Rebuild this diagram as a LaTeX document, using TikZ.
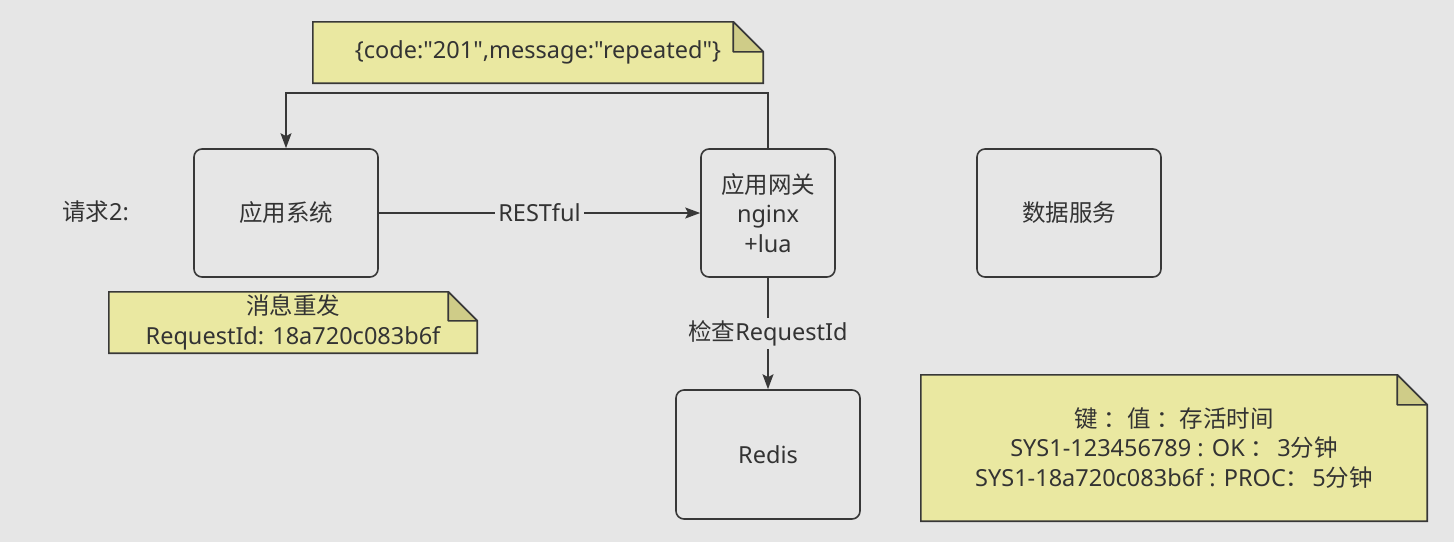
\documentclass[tikz,border=0pt]{standalone}
\usepackage{fontspec}
\setmainfont{Noto Sans}[Ligatures=TeXOff]
\newfontfamily\cjk{Noto Sans CJK SC}
\usetikzlibrary{arrows.meta}
\definecolor{bgc}{HTML}{E6E6E6}
\definecolor{notec}{HTML}{EAE8A1}
\definecolor{foldc}{HTML}{CFCC88}
\definecolor{linec}{HTML}{383838}
\definecolor{txtc}{HTML}{333333}
\pgfdeclarelayer{back}
\pgfdeclarelayer{notes}
\pgfsetlayers{back,notes,main}
\newcommand\notefold[2]{%
  \begin{pgfonlayer}{notes}
    \filldraw[fill=notec, draw=linec, line width=1.6pt]
      (#1.north west) -- ([xshift=-#2pt]#1.north east) -- ([yshift=-#2pt]#1.north east)
      -- (#1.south east) -- (#1.south west) -- cycle;
    \filldraw[fill=foldc, draw=linec, line width=1.6pt, line join=round]
      ([xshift=-#2pt]#1.north east) -- ([xshift=-#2pt,yshift=-#2pt]#1.north east)
      -- ([yshift=-#2pt]#1.north east) -- cycle;
  \end{pgfonlayer}}
\begin{document}
\begin{tikzpicture}[x=1pt,y=-1pt,
  font=\fontsize{23.5}{29.5}\selectfont, text=txtc,
  box/.style={draw=linec, line width=1.6pt, rounded corners=8pt, align=center, inner sep=0pt},
  notebox/.style={align=center, inner sep=0pt},
  conn/.style={draw=linec, line width=1.6pt},
  arr/.style={conn, -{Stealth[length=15pt,width=11pt,inset=3pt]}},
  lbl/.style={fill=bgc, inner sep=3pt}]
\begin{pgfonlayer}{back}
  \fill[bgc] (0,0) rectangle (1454,542);
\end{pgfonlayer}
\useasboundingbox (0,0) rectangle (1454,542);

% boxes
\node[box, minimum width=184pt, minimum height=128pt] (app) at (286,213) {\cjk 应用系统};
\node[box, minimum width=134pt, minimum height=128pt] (gw) at (768,213) {{\cjk 应用网关}\\nginx\\+lua};
\node[box, minimum width=184pt, minimum height=128pt] (data) at (1069,213) {\cjk 数据服务};
\node[box, minimum width=184pt, minimum height=129pt] (redis) at (768,454.5) {Redis};

% request label
\node[anchor=west, inner sep=0pt] (req) at (62,212) {{\cjk 请求}2:};

% notes
\node[notebox, minimum width=450pt, minimum height=61pt] (n1) at (538,52.5) {\{code:"201",message:"repeated"\}};
\notefold{n1}{30}
\node[notebox, minimum width=368pt, minimum height=61pt] (n2) at (293,322.5) {{\cjk 消息重发}\\RequestId: 18a720c083b6f};
\notefold{n2}{29}
\node[notebox, minimum width=506pt, minimum height=146pt] (n3) at (1174,448) {{\cjk 键\hspace{6pt}：值\hspace{6pt}：存活时间}\\SYS1-123456789 : OK\hspace{6pt}{\cjk ：}\hspace{3pt}3{\cjk 分钟}\\SYS1-18a720c083b6f : PROC{\cjk ：}\hspace{3pt}5{\cjk 分钟}};
\notefold{n3}{30}

% connectors
\draw[arr] (app.east) -- node[lbl] (rest) {RESTful} (gw.west);
\draw[arr] (gw.south) -- node[lbl] (chk) {{\cjk 检查}RequestId} (redis.north);
\draw[arr] (gw.north) -- ([yshift=55pt]gw.north) -| (app.north);
\end{tikzpicture}
\end{document}
